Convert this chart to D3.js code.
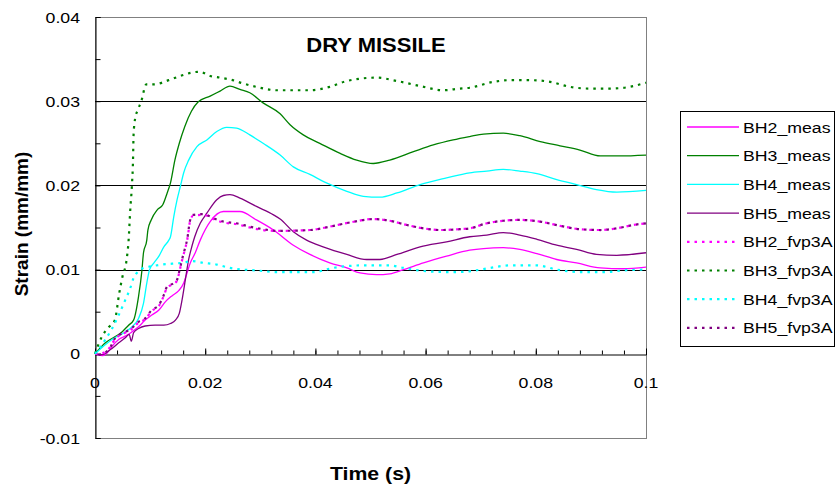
<!DOCTYPE html>
<html>
<head>
<meta charset="utf-8">
<script src="https://cdn.jsdelivr.net/npm/d3@7"></script>
<style>
html,body{margin:0;padding:0;background:#fff;}
svg{display:block;}
text{font-family:"Liberation Sans",Arial,sans-serif;fill:#000;}
</style>
</head>
<body>
<svg id="chart" width="835" height="492"></svg>
<script>
// ---- data ----
const seriesNames = ["BH2_meas","BH3_meas","BH4_meas","BH5_meas","BH2_fvp3A","BH3_fvp3A","BH4_fvp3A","BH5_fvp3A"];
const xTickLabels = ["0","0.02","0.04","0.06","0.08","0.1"];
const yTickLabels = ["-0.01","0","0.01","0.02","0.03","0.04"];

const bh2Meas = [[0,0],[0.0013,-0.0002],[0.0022,0.0001],[0.0031,0.0009],[0.0043,0.0017],[0.0055,0.0021],[0.0067,0.0026],[0.0079,0.0032],[0.0091,0.004],[0.0103,0.0046],[0.0116,0.0052],[0.0128,0.0062],[0.014,0.0069],[0.0152,0.0075],[0.0161,0.0084],[0.0167,0.0096],[0.0173,0.0108],[0.0182,0.012],[0.0191,0.0135],[0.0209,0.0157],[0.0233,0.0169],[0.0263,0.0169],[0.0293,0.0159],[0.0324,0.0147],[0.036,0.0129],[0.039,0.0118],[0.0426,0.0108],[0.0457,0.0102],[0.0481,0.0096],[0.0511,0.0094],[0.0535,0.0095],[0.056,0.01],[0.0596,0.0108],[0.0638,0.0116],[0.068,0.0123],[0.0705,0.0125],[0.0741,0.0126],[0.0771,0.0124],[0.0802,0.0119],[0.0838,0.0112],[0.0874,0.0108],[0.0917,0.0102],[0.0959,0.0101],[0.1,0.0103]];
const bh3Meas = [[0,0],[0.0019,0.0013],[0.0049,0.0026],[0.0061,0.0034],[0.007,0.004],[0.0079,0.0068],[0.0085,0.0098],[0.0088,0.012],[0.0094,0.0135],[0.0096,0.0147],[0.0102,0.0159],[0.0113,0.0171],[0.0123,0.0177],[0.0131,0.0191],[0.0137,0.0203],[0.0145,0.023],[0.0153,0.025],[0.0163,0.027],[0.0175,0.0288],[0.0187,0.0299],[0.0209,0.0306],[0.0227,0.0312],[0.0245,0.0318],[0.0263,0.0314],[0.0281,0.031],[0.0305,0.0298],[0.0336,0.0285],[0.0354,0.0272],[0.0378,0.026],[0.0408,0.025],[0.0445,0.0238],[0.0475,0.023],[0.0505,0.0226],[0.0535,0.023],[0.0578,0.024],[0.0614,0.0248],[0.065,0.0254],[0.068,0.0258],[0.0705,0.0261],[0.0741,0.0262],[0.0771,0.0259],[0.0808,0.0252],[0.0844,0.0247],[0.088,0.0242],[0.0917,0.0235],[0.0953,0.0235],[0.1,0.0236]];
const bh4Meas = [[0,0],[0.0031,0.0017],[0.0055,0.0026],[0.0067,0.0032],[0.0079,0.0042],[0.0088,0.006],[0.0094,0.0084],[0.0099,0.01],[0.0107,0.0108],[0.0116,0.0116],[0.0125,0.0127],[0.0134,0.0135],[0.0137,0.0139],[0.0143,0.0163],[0.0149,0.0183],[0.0155,0.0199],[0.0161,0.0215],[0.017,0.023],[0.0185,0.0246],[0.0203,0.0254],[0.0221,0.0264],[0.0239,0.0269],[0.0257,0.0268],[0.0281,0.026],[0.0305,0.025],[0.0336,0.0236],[0.036,0.0222],[0.039,0.0213],[0.042,0.0203],[0.0457,0.0193],[0.0487,0.0187],[0.0517,0.0186],[0.0548,0.0191],[0.059,0.0201],[0.0638,0.0209],[0.068,0.0215],[0.0711,0.0217],[0.0741,0.0219],[0.0771,0.0217],[0.0802,0.0214],[0.0838,0.0207],[0.0874,0.0201],[0.091,0.0195],[0.0947,0.0192],[0.1,0.0194]];
const bh5Meas = [[0,0],[0.0013,-0.0001],[0.0028,0.0005],[0.0043,0.0013],[0.0055,0.0019],[0.0062,0.0023],[0.0066,0.0015],[0.007,0.0025],[0.0079,0.003],[0.0091,0.0033],[0.0109,0.0034],[0.0125,0.0034],[0.0137,0.0036],[0.0146,0.004],[0.0153,0.0048],[0.0158,0.0064],[0.0164,0.0088],[0.017,0.0112],[0.0176,0.0128],[0.0181,0.0139],[0.0191,0.0155],[0.0203,0.0167],[0.0221,0.0183],[0.0233,0.0188],[0.0245,0.0189],[0.0263,0.0185],[0.0293,0.0175],[0.0324,0.0165],[0.0336,0.016],[0.036,0.0145],[0.0384,0.0135],[0.0414,0.0127],[0.0457,0.0118],[0.0493,0.0112],[0.0517,0.0112],[0.0548,0.0118],[0.059,0.0127],[0.0638,0.0133],[0.068,0.0139],[0.0711,0.0141],[0.0741,0.0144],[0.0771,0.0141],[0.0802,0.0136],[0.0838,0.0129],[0.0874,0.0124],[0.091,0.0118],[0.0947,0.0117],[0.1,0.012]];
const bh2Fvp = [[0,0],[0.0008,0],[0.0025,0.0006],[0.0037,0.0018],[0.0052,0.0024],[0.0064,0.0028],[0.0079,0.0037],[0.0091,0.0041],[0.0103,0.0051],[0.0116,0.0057],[0.0125,0.0069],[0.0131,0.0079],[0.0143,0.0083],[0.0149,0.0087],[0.0153,0.0097],[0.0158,0.0111],[0.0164,0.0126],[0.0167,0.0134],[0.0169,0.0142],[0.0172,0.0156],[0.0178,0.0164],[0.0197,0.0165],[0.0215,0.016],[0.0233,0.0156],[0.0257,0.0154],[0.0281,0.015],[0.0305,0.0147],[0.033,0.0146],[0.039,0.0147],[0.0426,0.0151],[0.0463,0.0156],[0.0505,0.016],[0.0535,0.0158],[0.0566,0.0153],[0.0596,0.0149],[0.0626,0.0147],[0.0662,0.0148],[0.068,0.0149],[0.0711,0.0155],[0.0741,0.0158],[0.0771,0.0159],[0.0808,0.0157],[0.0844,0.0152],[0.088,0.0148],[0.0917,0.0147],[0.0947,0.0149],[0.0977,0.0153],[0.1,0.0155]];
const bh3Fvp = [[0,0],[0.0013,0.0021],[0.0024,0.0031],[0.0036,0.004],[0.0044,0.0072],[0.005,0.0092],[0.0057,0.011],[0.0061,0.0135],[0.0064,0.0171],[0.0067,0.02],[0.0069,0.023],[0.007,0.026],[0.0073,0.028],[0.0078,0.029],[0.0084,0.03],[0.0093,0.032],[0.0107,0.032],[0.0134,0.0325],[0.0155,0.033],[0.0176,0.0334],[0.019,0.0335],[0.0209,0.033],[0.0227,0.0328],[0.025,0.0325],[0.0269,0.0321],[0.0293,0.0317],[0.033,0.0313],[0.039,0.0313],[0.0426,0.0317],[0.0457,0.0324],[0.0511,0.0328],[0.0548,0.0324],[0.059,0.0318],[0.0632,0.0313],[0.0662,0.0315],[0.068,0.0316],[0.0723,0.0323],[0.0753,0.0325],[0.0789,0.0325],[0.0826,0.0323],[0.0862,0.0317],[0.0898,0.0315],[0.0935,0.0315],[0.097,0.0317],[0.1,0.0322]];
const bh4Fvp = [[0,0],[0.0019,0.0017],[0.0031,0.003],[0.0043,0.0046],[0.0055,0.0064],[0.0064,0.0078],[0.007,0.009],[0.0079,0.0098],[0.0088,0.0102],[0.0103,0.0104],[0.0122,0.0106],[0.014,0.0107],[0.0158,0.0108],[0.0176,0.011],[0.0197,0.0108],[0.0221,0.0106],[0.0245,0.0102],[0.0269,0.01],[0.0293,0.0099],[0.033,0.0097],[0.0396,0.0097],[0.0432,0.0102],[0.0487,0.0105],[0.0535,0.0105],[0.056,0.0102],[0.0602,0.0098],[0.065,0.0097],[0.068,0.0098],[0.0717,0.0102],[0.0753,0.0105],[0.0802,0.0105],[0.0838,0.01],[0.088,0.0097],[0.0923,0.0097],[0.0959,0.0099],[0.1,0.01]];
const bh5Fvp = [[0,0],[0.0007,-0.0001],[0.0025,0.0005],[0.0037,0.0019],[0.0052,0.0025],[0.0064,0.0029],[0.0079,0.0038],[0.0091,0.0042],[0.0103,0.0052],[0.0116,0.0058],[0.0125,0.007],[0.0131,0.008],[0.0143,0.0084],[0.0149,0.0088],[0.0153,0.0098],[0.0158,0.0112],[0.0164,0.0127],[0.0167,0.0135],[0.0169,0.0143],[0.0172,0.0157],[0.0178,0.0165],[0.0197,0.0166],[0.0215,0.0161],[0.0233,0.0157],[0.0257,0.0155],[0.0281,0.0151],[0.0305,0.0148],[0.033,0.0146],[0.039,0.0147],[0.0426,0.0151],[0.0463,0.0156],[0.0505,0.016],[0.0535,0.0158],[0.0566,0.0153],[0.0596,0.0149],[0.0626,0.0147],[0.0662,0.0148],[0.068,0.0149],[0.0711,0.0155],[0.0741,0.0158],[0.0771,0.0159],[0.0808,0.0157],[0.0844,0.0152],[0.088,0.0148],[0.0917,0.0147],[0.0947,0.0149],[0.0977,0.0153],[0.1,0.0155]];

const seriesData = [bh2Meas,bh3Meas,bh4Meas,bh5Meas,bh2Fvp,bh3Fvp,bh4Fvp,bh5Fvp];
const seriesColors = ["#FF00FF","#008000","#00FFFF","#800080","#FF00FF","#008000","#00FFFF","#800080"];
const seriesDotted = [false,false,false,false,true,true,true,true];

// ---- layout ----
const svg = d3.select("#chart");
const L = 95, R = 646, T = 17, B = 438;
const x = d3.scaleLinear().domain([0,0.1]).range([L,R]);
const y = d3.scaleLinear().domain([-0.01,0.04]).range([B,T]);
const SX = 1.18;

function label(g, px, py, str, opts) {
  const o = Object.assign({size:15, weight:"normal", anchor:"middle", sx:SX, rotate:0}, opts||{});
  const gg = g.append("g").attr("transform", `translate(${px},${py}) rotate(${o.rotate}) scale(${o.sx},1)`);
  gg.append("text").attr("text-anchor", o.anchor).attr("font-size", o.size)
    .attr("font-weight", o.weight).text(str);
  return gg;
}

// plot frame
svg.append("rect").attr("x",L+0.5).attr("y",T+0.5).attr("width",R-L).attr("height",B-T)
  .attr("fill","#fff").attr("stroke","#808080").attr("stroke-width",1);

// gridlines
[0.01,0.02,0.03].forEach(v=>{
  svg.append("line").attr("x1",L).attr("x2",R).attr("y1",Math.round(y(v))+0.5).attr("y2",Math.round(y(v))+0.5)
    .attr("stroke","#000").attr("stroke-width",1);
});

// y axis
const yAxis = d3.axisRight(y).tickValues(d3.range(-0.01,0.0401,0.005)).tickSize(5).tickFormat("");
const yg = svg.append("g").attr("transform",`translate(${L+0.5},0)`).call(yAxis);
yg.select(".domain").attr("stroke","#000");
yg.selectAll(".tick line").attr("stroke","#000");

// x axis at y=0
const y0 = Math.round(y(0))+0.5;
const xMinor = d3.axisTop(x).tickValues(d3.range(0,0.1001,0.004)).tickSize(4).tickFormat("");
const xg1 = svg.append("g").attr("transform",`translate(0,${y0})`).call(xMinor);
xg1.select(".domain").attr("stroke","#000");
xg1.selectAll(".tick line").attr("stroke","#000");
const xMajor = d3.axisTop(x).tickValues(d3.range(0,0.1001,0.02)).tickSize(6).tickFormat("");
const xg2 = svg.append("g").attr("transform",`translate(0,${y0})`).call(xMajor);
xg2.select(".domain").remove();
xg2.selectAll(".tick line").attr("stroke","#000");

// tick labels
xTickLabels.forEach(s=>{ label(svg, x(+s), y(0)+34, s, {size:15}); });
yTickLabels.forEach(s=>{ label(svg, 80, y(+s)+5.5, s, {size:15, anchor:"end"}); });

// series
const line = d3.line().x(d=>x(d[0])).y(d=>y(d[1])).curve(d3.curveMonotoneX);
seriesData.forEach((data,i)=>{
  const p = svg.append("path").datum(data).attr("d",line).attr("fill","none")
    .attr("stroke",seriesColors[i]).attr("stroke-linejoin","round");
  if (seriesDotted[i]) {
    p.attr("stroke-width",2.2).attr("stroke-dasharray","2.5,5");
    if (i===7) p.attr("stroke-dashoffset",3.75);
  } else {
    p.attr("stroke-width",1.3);
  }
});

// title & axis titles
label(svg, 376, 51.5, "DRY MISSILE", {size:20, weight:"bold", sx:1.1});
label(svg, 370.5, 480, "Time (s)", {size:19, weight:"bold", sx:1.12});
label(svg, 28, 224, "Strain (mm/mm)", {size:19, weight:"bold", sx:1, rotate:-90});

// legend
const lg = svg.append("g");
lg.append("rect").attr("x",680.5).attr("y",111.5).attr("width",154).attr("height",235)
  .attr("fill","#fff").attr("stroke","#000").attr("stroke-width",1);
seriesNames.forEach((name,i)=>{
  const ly = 127 + i*28.7;
  const l = lg.append("line").attr("x1",687).attr("x2",739).attr("y1",ly).attr("y2",ly)
    .attr("stroke",seriesColors[i]);
  if (seriesDotted[i]) l.attr("stroke-width",2.2).attr("stroke-dasharray","2.5,5");
  else l.attr("stroke-width",1.3);
  label(lg, 743, ly+5.5, name, {size:15, anchor:"start"});
});
</script>
</body>
</html>
